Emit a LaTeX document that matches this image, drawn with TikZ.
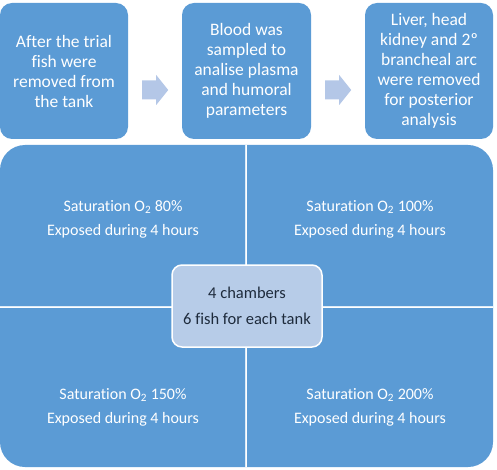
\documentclass[tikz,border=0pt]{standalone}
\usepackage{fontspec}
\setmainfont{Carlito}[Ligatures=NoCommon]
\definecolor{mainblue}{HTML}{5B9BD5}
\definecolor{arrowblue}{HTML}{B4C7E7}
\definecolor{centerfill}{HTML}{B7CCE8}
\definecolor{divline}{HTML}{DDEBF7}
\definecolor{darktext}{HTML}{1E2B3C}
\begin{document}
\begin{tikzpicture}[x=1pt,y=-1pt,
  topbox/.style={draw=none,fill=mainblue,rounded corners=12pt,minimum width=128pt,minimum height=136pt,
    text=white,align=center,font=\fontsize{17.5}{20}\selectfont,inner sep=0pt},
  quadtext/.style={text=white,align=center,font=\fontsize{16}{24}\selectfont},
  blockarrow/.style={fill=arrowblue,draw=none}
  ]
\useasboundingbox (0,0) rectangle (497,470);
% top boxes
\node[topbox] (b1) at (64,71) {After the trial\\fish were\\removed from\\the tank};
\node[topbox,minimum width=129pt] (b2) at (246.5,71) {Blood was\\sampled to\\analise plasma\\and humoral\\parameters};
\node[topbox] (b3) at (429,71) {Liver, head\\kidney and 2º\\brancheal arc\\were removed\\for posterior\\analysis};
% block arrows
\fill[blockarrow] ([xshift=14pt,yshift=-9.5pt]b1.east) -- ++(14,0) -- ++(0,-5.5) -- ++(12,15) -- ++(-12,15) -- ++(0,-5.5) -- ++(-14,0) -- cycle;
\fill[blockarrow] ([xshift=14pt,yshift=-9.5pt]b2.east) -- ++(14,0) -- ++(0,-5.5) -- ++(12,15) -- ++(-12,15) -- ++(0,-5.5) -- ++(-14,0) -- cycle;
% big block
\fill[mainblue,rounded corners=25pt] (0,145) rectangle (493,467);
\draw[divline,line width=2pt] (246,145) -- (246,467);
\draw[divline,line width=2pt] (0,307) -- (493,307);
\draw[white,line width=0.8pt] (246,145) -- (246,467);
\draw[white,line width=0.8pt] (0,307) -- (493,307);
% quadrant texts
\node[quadtext] (q1) at (123,219) {Saturation O\textsubscript{2} 80\%\\Exposed during 4 hours};
\node[quadtext] (q2) at (370,219) {Saturation O\textsubscript{2} 100\%\\Exposed during 4 hours};
\node[quadtext] (q3) at (123,407) {Saturation O\textsubscript{2} 150\%\\Exposed during 4 hours};
\node[quadtext] (q4) at (370,407) {Saturation O\textsubscript{2} 200\%\\Exposed during 4 hours};
% center box
\node[fill=centerfill,draw=white,line width=1.5pt,rounded corners=10pt,minimum width=150pt,minimum height=82pt,
  text=darktext,align=center,font=\fontsize{16.5}{26}\selectfont] (c) at (247,306) {4 chambers\\6 fish for each tank};
\end{tikzpicture}
\end{document}
